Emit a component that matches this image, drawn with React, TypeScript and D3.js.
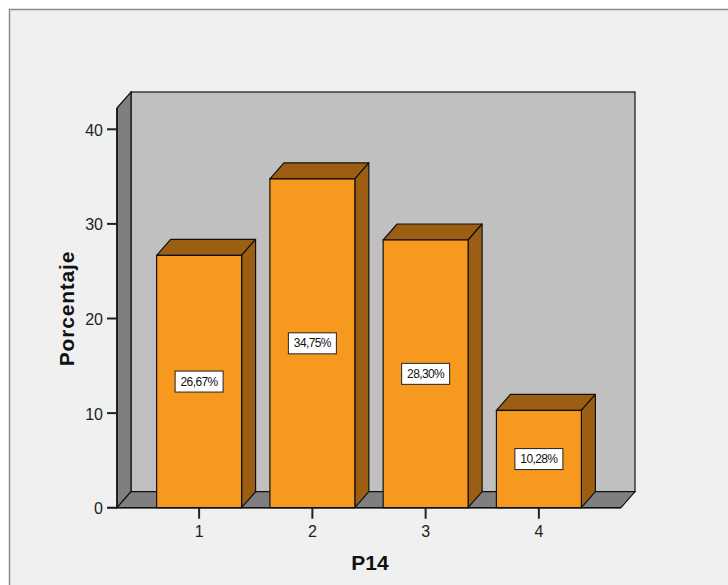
import React from "react";
import * as d3 from "d3";

const categories = ["1", "2", "3", "4"];
const values = [26.67, 34.75, 28.3, 10.28];
const valueLabels = ["26,67%", "34,75%", "28,30%", "10,28%"];
const yTicks = [0, 10, 20, 30, 40];

export default function App() {
  const W = 728, H = 585;
  const x0 = 117, x1 = 621; // front floor edge
  const yBase = 507.7, yTopFront = 108;
  const dx = 14, dy = 16;
  const y = d3.scaleLinear().domain([0, 40]).range([yBase, 129.3]);
  const x = d3.scaleBand<string>().domain(categories).range([x0, x1]).paddingInner(0.25).paddingOuter(0.35);
  const bw = x.bandwidth();
  const front = "#f7991e", dark = "#9b5e13";
  return (
    <svg width={W} height={H} style={{ position: "absolute", left: 0, top: 0, fontFamily: "Arial, 'Liberation Sans', sans-serif" }}>
      <rect x={0} y={0} width={W} height={H} fill="#fff" />
      <rect x={9.5} y={9.5} width={900} height={800} fill="#f0f0f0" stroke="#8a8a8a" strokeWidth={1.5} />
      {/* back wall */}
      <rect x={x0 + dx} y={yTopFront - dy} width={x1 - x0} height={yBase - yTopFront} fill="#c0c0c0" stroke="#111" strokeWidth={1.2} />
      {/* left wall */}
      <polygon points={`${x0},${yTopFront} ${x0 + dx},${yTopFront - dy} ${x0 + dx},${yBase - dy} ${x0},${yBase}`} fill="#7f7f7f" stroke="#111" strokeWidth={1.2} />
      {/* floor */}
      <polygon points={`${x0},${yBase} ${x0 + dx},${yBase - dy} ${x1 + dx},${yBase - dy} ${x1},${yBase}`} fill="#7f7f7f" stroke="#111" strokeWidth={1.2} />
      {/* bars */}
      {categories.map((c, i) => {
        const bx = x(c)!;
        const by = y(values[i]);
        const cy = y(values[i] / 2);
        return (
          <g key={c}>
            <polygon points={`${bx},${by} ${bx + dx},${by - dy} ${bx + bw + dx},${by - dy} ${bx + bw},${by}`} fill={dark} stroke="#111" strokeWidth={1.2} strokeLinejoin="round" />
            <polygon points={`${bx + bw},${by} ${bx + bw + dx},${by - dy} ${bx + bw + dx},${yBase - dy} ${bx + bw},${yBase}`} fill={dark} stroke="#111" strokeWidth={1.2} strokeLinejoin="round" />
            <rect x={bx} y={by} width={bw} height={yBase - by} fill={front} stroke="#111" strokeWidth={1.2} />
            <rect x={bx + bw / 2 - 24} y={cy - 10.5} width={48} height={21} fill="#fff" stroke="#222" strokeWidth={1} />
            <text x={bx + bw / 2} y={cy + 4} textAnchor="middle" fontSize={12} fill="#111" letterSpacing={-0.6}>{valueLabels[i]}</text>
          </g>
        );
      })}
      {/* y axis */}
      <line x1={x0} y1={yTopFront} x2={x0} y2={yBase} stroke="#111" strokeWidth={1.5} />
      <line x1={108} y1={yBase} x2={x1} y2={yBase} stroke="#111" strokeWidth={1.5} />
      {yTicks.map(t => (
        <g key={t}>
          <line x1={107} x2={x0} y1={y(t)} y2={y(t)} stroke="#222" strokeWidth={2} />
          <text x={103} y={y(t) + 6.5} textAnchor="end" fontSize={16} fill="#222">{t}</text>
        </g>
      ))}
      {categories.map(c => (
        <g key={c}>
          <line x1={x(c)! + bw / 2} x2={x(c)! + bw / 2} y1={yBase} y2={yBase + 11} stroke="#222" strokeWidth={2} />
          <text x={x(c)! + bw / 2} y={yBase + 29.5} textAnchor="middle" fontSize={16} fill="#222">{c}</text>
        </g>
      ))}
      <text transform={`translate(74,308.5) rotate(-90)`} textAnchor="middle" fontSize={21} fontWeight="bold" fill="#111" letterSpacing={0.8}>Porcentaje</text>
      <text x={370} y={570} textAnchor="middle" fontSize={21} fontWeight="bold" fill="#111">P14</text>
    </svg>
  );
}
